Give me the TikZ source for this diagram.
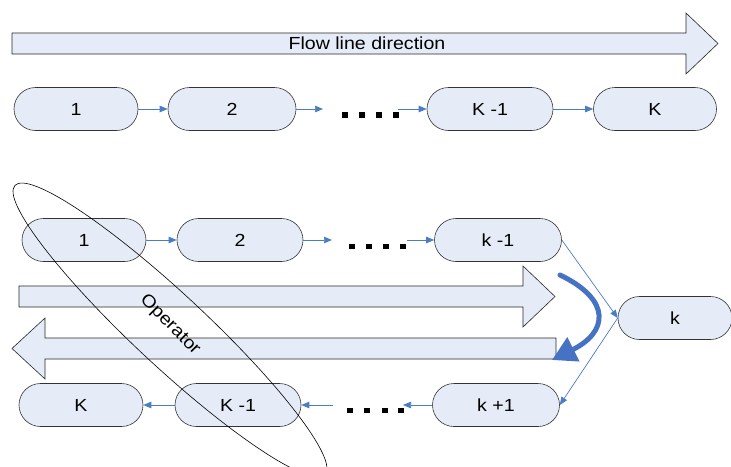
\documentclass[tikz,border=0pt]{standalone}
\usepackage{fontspec}
\setmainfont{Liberation Sans}[FakeStretch=1.12]
\usetikzlibrary{arrows.meta}
\definecolor{nodefill}{RGB}{230,236,247}
\definecolor{connblue}{RGB}{74,126,196}
\definecolor{curveblue}{RGB}{70,114,196}
\begin{document}
\begin{tikzpicture}[x=1pt,y=-1pt,
  stadium/.style={draw=black!80, fill=nodefill, line width=0.6pt, rounded corners=21.5pt,
    minimum height=43pt, inner sep=0pt, font=\fontsize{17.5}{20}\selectfont},
  conn/.style={draw=connblue, line width=0.7pt, -{Triangle[length=8pt,width=6.5pt]}},
  bigarrow/.style={draw=black!85, fill=nodefill, line width=0.6pt},
  dot/.style={fill=black},
  lbl/.style={font=\fontsize{17.5}{20}\selectfont, inner sep=0pt}]
\useasboundingbox (0,0) rectangle (731,466);
\clip (0,0) rectangle (731,466);

% top flow arrow
\draw[bigarrow] (12,33) -- (686,33) -- (686,13) -- (718,43.5) -- (686,74) -- (686,54) -- (12,54) -- cycle;
\node[lbl] (flow) at (367,43.5) {Flow line direction};

% top row
\node[stadium, minimum width=124pt] (a1) at (76,109) {1};
\node[stadium, minimum width=128pt] (a2) at (232,109) {2};
\node[stadium, minimum width=126pt] (ak1) at (490,109) {K -1};
\node[stadium, minimum width=123pt] (ak) at (655,109) {K};
\coordinate (a2e) at (323,109);
\coordinate (ak1s) at (398,109);
\draw[conn] (a1) -- (a2);
\draw[conn] (a2) -- (a2e);
\draw[conn] (ak1s) -- (ak1);
\draw[conn] (ak1) -- (ak);
\foreach \x in {345,362,379,396} \fill[dot] (\x-2.7,112.3) rectangle ++(5.4,5.4);

% middle big arrows
\draw[bigarrow] (19,286) -- (523,286) -- (523,266) -- (555,296.5) -- (523,327) -- (523,307) -- (19,307) -- cycle;
\draw[bigarrow] (556,338) -- (45,338) -- (45,318) -- (12,348.5) -- (45,379) -- (45,359) -- (556,359) -- cycle;

% second row
\node[stadium, minimum width=124pt] (b1) at (84,240) {1};
\node[stadium, minimum width=126pt] (b2) at (240,240) {2};
\node[stadium, minimum width=127pt] (bk1) at (498,240) {k -1};
\node[stadium, minimum width=114pt] (bk) at (675,318) {k};
\coordinate (b2e) at (332,240);
\coordinate (bk1s) at (407,240);
\draw[conn] (b1) -- (b2);
\draw[conn] (b2) -- (b2e);
\draw[conn] (bk1s) -- (bk1);
\draw[conn] (bk1.east) -- (bk.west);
\foreach \x in {352,369,386,403} \fill[dot] (\x-2.7,243.5) rectangle ++(5.4,5.4);

% bottom row
\node[stadium, minimum width=124pt] (c1) at (81,405) {K};
\node[stadium, minimum width=126pt] (c2) at (238,405) {K -1};
\node[stadium, minimum width=127pt] (ck1) at (496,405) {k +1};
\coordinate (c2s) at (333,405);
\coordinate (ck1e) at (403,405);
\draw[conn] (bk.west) -- (ck1.east);
\draw[conn] (ck1) -- (ck1e);
\draw[conn] (c2s) -- (c2);
\draw[conn] (c2) -- (c1);
\foreach \x in {350,367,385,401} \fill[dot] (\x-2.7,407.5) rectangle ++(5.4,5.4);

% curved turn arrow
\draw[curveblue, line width=5pt, line cap=round, -{Triangle[length=24pt,width=26pt]}]
  (560,275) .. controls (612,300) and (608,332) .. (552,360);

% operator ellipse
\draw[black, line width=0.6pt, rotate around={-43:(170,330)}] (170,330) ellipse [x radius=212pt, y radius=36pt];
\node[lbl, rotate=-45] (op) at (170,325) {Operator};
\end{tikzpicture}
\end{document}
